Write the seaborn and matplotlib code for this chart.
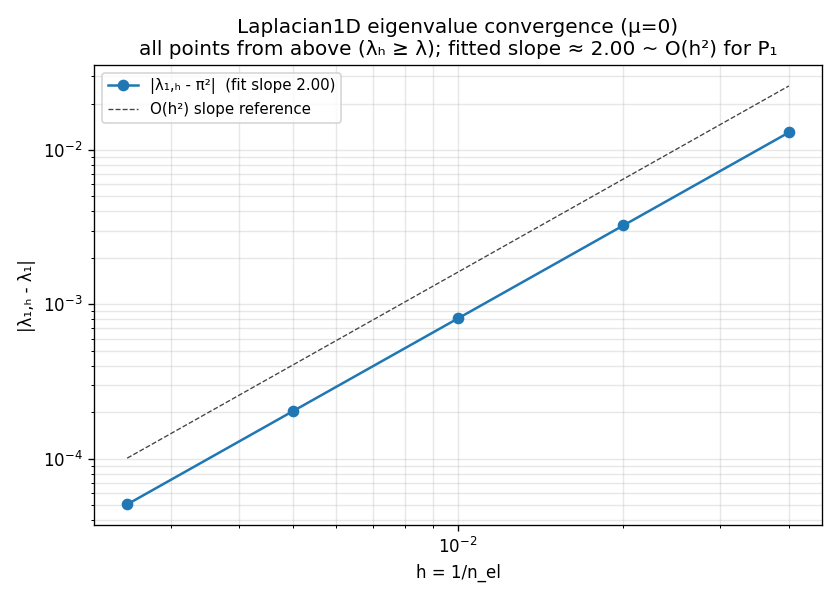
import numpy as np
import pandas as pd
import matplotlib
matplotlib.use("Agg")
import matplotlib.pyplot as plt
import seaborn as sns

# mesh sizes h = 1/n_el and eigenvalue errors
h_vals = [0.0025, 0.005, 0.01, 0.02, 0.04]
err_vals = [5.07e-5, 2.03e-4, 8.12e-4, 3.25e-3, 1.30e-2]

# O(h^2) reference line endpoints
ref_h = [0.0025, 0.04]
ref_err = [1.01e-4, 2.6e-2]

df = pd.DataFrame({"h": h_vals, "err": err_vals})
ref = pd.DataFrame({"h": ref_h, "err": ref_err})

fig, ax = plt.subplots(figsize=(7, 5), dpi=120)

sns.lineplot(data=df, x="h", y="err", marker="o", markersize=7, markeredgewidth=0,
             color="#1f77b4", linewidth=1.5, ax=ax,
             label="|λ₁,ₕ - π²|  (fit slope 2.00)")
sns.lineplot(data=ref, x="h", y="err", color="#444444", linestyle="--",
             linewidth=0.8, ax=ax, label="O(h²) slope reference")

ax.set_xscale("log")
ax.set_yscale("log")
ax.grid(True, which="both", alpha=0.3)
ax.set_xlabel("h = 1/n_el")
ax.set_ylabel("|λ₁,ₕ - λ₁|")
ax.set_title("Laplacian1D eigenvalue convergence (μ=0)\n"
             "all points from above (λₕ ≥ λ); fitted slope ≈ 2.00 ~ O(h²) for P₁")
ax.legend(loc="upper left", fontsize=9)

plt.tight_layout()
plt.savefig("out.png")
